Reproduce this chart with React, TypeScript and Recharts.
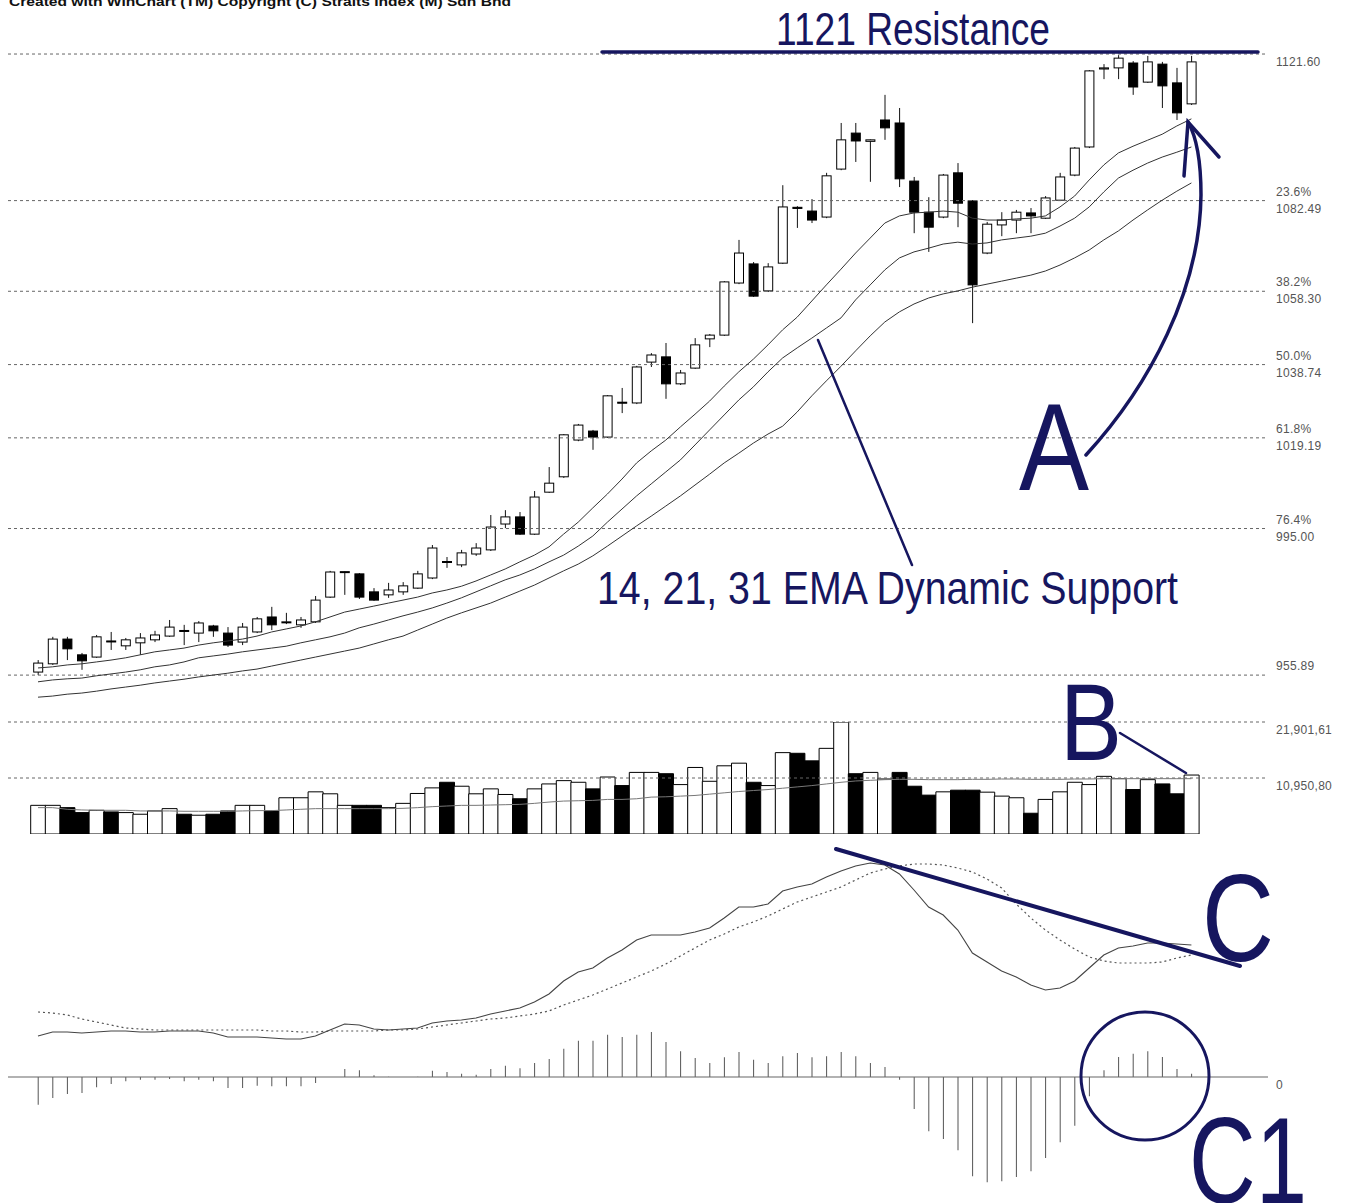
import React from "react";
import { Bar, Cell, ComposedChart, Line, ReferenceLine, XAxis, YAxis } from "recharts";

// daily OHLC
const opens = [
  956.7, 958.9, 965.5, 961.3, 960.7, 965.0, 963.7, 964.5, 965.3, 966.3,
  967.8, 967.1, 969.0, 967.1, 964.7, 967.4, 971.4, 970.0, 969.3, 970.1,
  976.7, 983.3, 982.9, 978.1, 977.3, 978.1, 979.1, 981.8, 986.2, 985.3,
  988.2, 989.3, 996.2, 998.1, 993.5, 1004.7, 1008.8, 1018.6, 1021.0, 1019.4,
  1028.7, 1028.5, 1039.4, 1040.8, 1033.6, 1037.8, 1045.6, 1046.6, 1060.5, 1065.6,
  1058.4, 1065.8, 1080.7, 1079.7, 1078.1, 1090.9, 1100.5, 1098.3, 1104.0, 1103.2,
  1087.7, 1079.4, 1078.1, 1089.9, 1082.4, 1068.5, 1076.0, 1077.3, 1079.2, 1077.8,
  1082.6, 1089.3, 1096.8, 1117.6, 1117.9, 1119.2, 1114.1, 1118.9, 1113.9, 1108.3,
];
const highs = [
  959.9, 966.1, 966.1, 961.8, 966.6, 967.4, 965.8, 967.1, 967.7, 970.6,
  969.3, 970.3, 969.3, 968.7, 969.8, 971.4, 974.1, 972.5, 971.4, 977.0,
  983.7, 983.6, 983.1, 979.1, 980.5, 980.7, 983.7, 990.6, 987.4, 989.3,
  991.1, 998.6, 999.9, 999.4, 1005.0, 1011.4, 1020.2, 1022.9, 1021.3, 1030.6,
  1032.5, 1038.4, 1041.8, 1044.5, 1037.3, 1045.8, 1046.9, 1061.0, 1072.0, 1066.1,
  1065.8, 1086.6, 1081.0, 1082.9, 1089.9, 1103.2, 1103.2, 1098.8, 1110.7, 1107.2,
  1088.8, 1083.4, 1089.6, 1092.5, 1082.6, 1076.8, 1079.4, 1080.0, 1080.5, 1083.7,
  1089.9, 1096.8, 1117.3, 1118.9, 1121.3, 1119.7, 1121.1, 1119.5, 1117.9, 1121.1,
];
const lows = [
  955.9, 958.6, 959.9, 957.3, 960.5, 962.6, 962.6, 961.3, 964.7, 966.1,
  963.9, 964.7, 966.1, 963.4, 963.9, 967.1, 967.9, 969.5, 968.5, 969.8,
  976.5, 977.3, 976.2, 975.7, 976.5, 977.3, 978.9, 981.5, 984.5, 984.7,
  987.7, 989.0, 995.1, 993.3, 993.3, 1004.5, 1008.5, 1018.3, 1016.0, 1019.2,
  1025.8, 1028.2, 1038.1, 1029.6, 1033.3, 1037.6, 1043.4, 1046.4, 1060.2, 1056.8,
  1058.1, 1065.6, 1075.2, 1076.5, 1077.8, 1090.6, 1092.8, 1087.5, 1098.7, 1086.1,
  1073.8, 1068.8, 1077.8, 1075.4, 1049.8, 1068.2, 1073.0, 1073.8, 1073.8, 1077.6,
  1082.4, 1089.0, 1096.5, 1114.9, 1114.9, 1110.7, 1113.9, 1107.2, 1104.0, 1108.0,
];
const closes = [
  959.1, 965.5, 962.9, 959.7, 966.1, 964.8, 965.3, 965.8, 966.6, 968.7,
  967.7, 969.8, 967.7, 963.9, 968.7, 970.9, 969.3, 970.1, 970.6, 975.9,
  983.4, 983.5, 976.7, 975.9, 978.6, 979.7, 982.9, 989.8, 986.1, 988.5,
  989.8, 995.4, 998.1, 993.5, 1003.4, 1007.1, 1020.0, 1022.6, 1019.4, 1030.4,
  1028.5, 1038.1, 1041.3, 1033.6, 1036.5, 1044.0, 1046.6, 1060.8, 1068.5, 1057.0,
  1064.8, 1080.8, 1080.4, 1077.3, 1089.1, 1098.7, 1098.4, 1098.7, 1101.9, 1088.3,
  1079.4, 1075.4, 1089.3, 1081.8, 1060.0, 1076.2, 1077.3, 1079.4, 1078.4, 1083.2,
  1088.8, 1096.5, 1117.1, 1117.9, 1120.5, 1112.8, 1119.5, 1113.1, 1105.9, 1119.5,
];

// 14 / 21 / 31 EMA lines as drawn
const ema14 = [
  957.8, 958.1, 958.6, 958.9, 959.4, 959.9, 960.5, 961.3, 962.1, 962.6,
  963.1, 963.9, 964.5, 965.0, 965.5, 966.3, 967.4, 968.2, 969.0, 970.1,
  971.4, 972.7, 973.5, 974.3, 975.1, 975.9, 976.7, 977.8, 978.6, 979.6,
  981.0, 982.6, 984.2, 986.1, 987.9, 990.1, 993.5, 996.7, 1000.5, 1004.2,
  1008.2, 1012.5, 1015.7, 1018.6, 1022.1, 1025.5, 1029.0, 1033.0, 1036.8, 1040.2,
  1044.0, 1048.0, 1051.4, 1055.7, 1060.0, 1064.2, 1068.5, 1072.5, 1076.5, 1078.4,
  1079.2, 1079.4, 1079.7, 1079.4, 1077.8, 1077.3, 1077.3, 1077.6, 1077.8, 1078.4,
  1080.8, 1083.7, 1088.0, 1092.0, 1095.2, 1097.0, 1098.6, 1100.2, 1102.4, 1104.3,
];
const ema21 = [
  954.1, 954.6, 954.9, 955.1, 955.7, 956.2, 956.7, 957.3, 958.1, 958.6,
  959.4, 960.5, 961.0, 961.5, 962.1, 962.6, 963.1, 963.6, 964.5, 965.3,
  966.1, 967.1, 968.5, 969.5, 970.6, 971.7, 972.7, 973.8, 975.1, 976.5,
  978.1, 979.7, 981.3, 982.6, 984.2, 986.1, 987.9, 990.3, 993.0, 996.7,
  1000.2, 1003.7, 1006.9, 1010.1, 1013.3, 1017.3, 1021.3, 1025.3, 1029.3, 1032.8,
  1036.8, 1040.5, 1043.2, 1045.8, 1048.5, 1051.2, 1056.0, 1060.0, 1064.0, 1067.2,
  1068.8, 1069.8, 1070.9, 1071.4, 1070.9, 1071.2, 1072.0, 1072.5, 1073.0, 1073.8,
  1075.7, 1077.8, 1080.8, 1084.8, 1088.5, 1090.6, 1092.5, 1094.1, 1095.4, 1096.8,
];
const ema31 = [
  950.0, 950.3, 950.8, 951.1, 951.6, 952.2, 952.7, 953.2, 953.8, 954.3,
  954.8, 955.4, 955.9, 956.4, 957.0, 957.5, 958.3, 959.1, 959.9, 960.7,
  961.5, 962.3, 963.1, 964.2, 965.3, 966.3, 967.9, 969.5, 971.1, 972.5,
  973.8, 975.1, 976.7, 978.3, 979.9, 981.8, 983.7, 985.5, 987.7, 990.3,
  993.0, 995.7, 998.3, 1001.0, 1003.7, 1006.6, 1009.5, 1012.5, 1015.1, 1017.8,
  1020.2, 1022.3, 1026.1, 1030.4, 1034.4, 1038.3, 1042.4, 1046.4, 1050.1, 1052.8,
  1054.9, 1056.5, 1057.6, 1058.4, 1059.4, 1060.2, 1061.0, 1061.8, 1062.6, 1063.7,
  1065.3, 1067.2, 1069.3, 1072.0, 1074.4, 1077.3, 1080.0, 1082.6, 1085.0, 1087.2,
];

const volumes = [
  5604, 5604, 5154, 4187, 4638, 4316, 4187, 3865, 4509, 4960,
  3865, 3672, 3865, 4509, 5604, 5604, 4509, 7086, 7086, 8246,
  7859, 5604, 5604, 5604, 5154, 5991, 7924, 9019, 10114, 9341,
  7859, 8826, 7730, 6893, 8826, 9792, 10436, 10114, 8826, 11145,
  9470, 12047, 12047, 11789, 9663, 13013, 10307, 13335, 13850, 10114,
  9470, 15912, 15783, 14301, 16749, 21901.6, 11789, 12047, 10758, 12047,
  9341, 7602, 8246, 8568, 8568, 8181, 7408, 7086, 4058, 6764,
  8246, 10114, 9663, 11273, 10822, 8697, 10629, 9792, 7859, 11531,
];
const volumeAvg = [
  5152, 5152, 4830, 4701, 4637, 4637, 4637, 4508, 4508, 4508,
  4444, 4444, 4444, 4444, 4508, 4572, 4572, 4701, 4830, 4959,
  4959, 4959, 4959, 4959, 4959, 5023, 5152, 5345, 5474, 5603,
  5603, 5667, 5732, 5796, 5989, 6247, 6440, 6504, 6569, 6762,
  6762, 6891, 7213, 7277, 7406, 7535, 7792, 8050, 8308, 8501,
  8694, 8952, 9209, 9467, 9789, 10111, 10368, 10497, 10626, 10690,
  10690, 10626, 10626, 10626, 10690, 10690, 10755, 10755, 10690, 10690,
  10690, 10755, 10755, 10819, 10819, 10819, 10819, 10819, 10819, 10819,
];

const macdLine = [
  4.1, 4.5, 4.5, 4.4, 4.5, 4.6, 4.6, 4.5, 4.5, 4.6,
  4.6, 4.6, 4.4, 4.0, 4.0, 4.0, 3.9, 3.8, 3.8, 4.1,
  4.7, 5.3, 5.2, 4.8, 4.7, 4.8, 4.9, 5.4, 5.6, 5.7,
  5.9, 6.3, 6.6, 6.9, 7.5, 8.3, 9.6, 10.5, 10.9, 11.9,
  12.7, 13.7, 14.2, 14.2, 14.2, 14.5, 14.9, 15.9, 17.0, 17.0,
  17.3, 18.6, 19.0, 19.3, 20.0, 20.6, 21.1, 21.4, 21.2, 20.3,
  18.7, 17.0, 16.2, 14.7, 12.4, 11.5, 10.6, 10.0, 9.2, 8.7,
  8.9, 9.6, 10.9, 12.2, 12.9, 13.1, 13.4, 13.4, 13.3, 13.2,
];
const signalLine = [
  6.5, 6.4, 6.2, 5.8, 5.5, 5.2, 4.9, 4.8, 4.7, 4.7,
  4.7, 4.7, 4.7, 4.7, 4.7, 4.7, 4.6, 4.6, 4.5, 4.5,
  4.6, 4.6, 4.6, 4.6, 4.7, 4.7, 4.8, 5.0, 5.2, 5.4,
  5.6, 5.8, 5.9, 6.1, 6.3, 6.6, 7.2, 7.7, 8.2, 8.8,
  9.4, 10.0, 10.6, 11.3, 12.1, 12.9, 13.7, 14.3, 15.0, 15.5,
  16.1, 16.8, 17.5, 18.0, 18.5, 19.0, 19.7, 20.4, 20.8, 21.1,
  21.3, 21.3, 21.2, 20.9, 20.5, 19.8, 18.9, 17.3, 15.9, 14.7,
  13.7, 12.8, 12.0, 11.6, 11.4, 11.4, 11.4, 11.5, 11.9, 12.2,
];
const macdHist = [
  -2.22, -1.68, -1.36, -1.28, -0.82, -0.56, -0.34, -0.22, -0.22, -0.16,
  -0.34, -0.22, -0.34, -0.88, -0.88, -0.7, -0.74, -0.74, -0.74, -0.48,
  0, 0.64, 0.54, 0.14, 0.02, 0, 0.02, 0.5, 0.4, 0.26,
  0.18, 0.64, 0.9, 0.7, 1.12, 1.44, 2.26, 2.9, 2.9, 3.38,
  3.2, 3.38, 3.6, 2.8, 2.06, 1.52, 1.12, 1.58, 2.0, 1.38,
  1.12, 1.66, 1.92, 1.58, 1.66, 2.0, 1.66, 1.12, 0.8, -0.22,
  -2.56, -4.34, -4.96, -5.86, -7.94, -8.42, -8.34, -8.0, -7.54, -6.48,
  -5.22, -3.9, -1.54, 0.54, 1.6, 1.86, 2.06, 1.6, 0.64, 0.26,
];

const fibLevels = [
  { value: 1121.6, pct: "", text: "1121.60" },
  { value: 1082.49, pct: "23.6%", text: "1082.49" },
  { value: 1058.3, pct: "38.2%", text: "1058.30" },
  { value: 1038.74, pct: "50.0%", text: "1038.74" },
  { value: 1019.19, pct: "61.8%", text: "1019.19" },
  { value: 995.0, pct: "76.4%", text: "995.00" },
  { value: 955.89, pct: "", text: "955.89", above: true },
];
const volumeLevels = [
  { value: 21901.61, text: "21,901,61" },
  { value: 10950.8, text: "10,950,80" },
];

const days = opens.map((_, i) => `D${i + 1}`);

const rows = days.map((day, i) => ({
  day,
  open: opens[i],
  high: highs[i],
  low: lows[i],
  close: closes[i],
  ema14: ema14[i],
  ema21: ema21[i],
  ema31: ema31[i],
  volume: volumes[i],
  volAvg: volumeAvg[i],
  up: i === 0 || closes[i] >= closes[i - 1],
  macd: macdLine[i],
  signal: signalLine[i],
  hist: macdHist[i],
}));

const W = 1348;
const MARGIN = { top: 0, right: 80, bottom: 0, left: 8 };
const PAD = { left: 22.7, right: 69.3 };
const NAVY = "#16165f";
const LABEL_FONT = "'Liberation Sans', Arial, sans-serif";
const BIG_FONT = "'Liberation Sans Narrow', 'Liberation Sans', Arial, sans-serif";
const DOTS = "3 3";

function Candle(props: any) {
  const { x, y, width, height, payload } = props;
  if (!payload || height == null) return null;
  const { open, close, high, low } = payload;
  const cx = x + width / 2;
  const ppu = height / (high - low);
  const yOf = (v: number) => y + (high - v) * ppu;
  const top = yOf(Math.max(open, close));
  const bot = yOf(Math.min(open, close));
  const bw = 9;
  return (
    <g>
      <line x1={cx} x2={cx} y1={y} y2={y + height} stroke="#111" strokeWidth={1} />
      <rect
        x={cx - bw / 2}
        y={top}
        width={bw}
        height={Math.max(1, bot - top)}
        fill={close >= open ? "#fff" : "#000"}
        stroke="#000"
        strokeWidth={1}
      />
    </g>
  );
}

function LevelLabel({ viewBox, top, bottom, above }: any) {
  if (!viewBox) return null;
  const x = viewBox.x + viewBox.width + 8;
  const y = viewBox.y;
  return (
    <g fontFamily={LABEL_FONT} fontSize={12} fill="#555" letterSpacing={0.3}>
      {top ? <text x={x} y={y - 5}>{top}</text> : null}
      {bottom ? <text x={x} y={above ? y - 5 : y + 12}>{bottom}</text> : null}
    </g>
  );
}

function PriceChart() {
  return (
    <ComposedChart width={W} height={670} data={rows} margin={MARGIN} barCategoryGap={0}>
      <XAxis dataKey="day" hide padding={PAD} />
      <YAxis hide domain={[946.58, 1125.34]} allowDataOverflow />
      {fibLevels.map((f) => (
        <ReferenceLine
          key={f.text}
          y={f.value}
          stroke="#666"
          strokeDasharray={DOTS}
          label={{
            content: (p: any) => (
              <LevelLabel viewBox={p.viewBox} top={f.pct} bottom={f.text} above={f.above} />
            ),
          }}
        />
      ))}
      <Line dataKey="ema31" stroke="#333" strokeWidth={1} dot={false} isAnimationActive={false} />
      <Line dataKey="ema21" stroke="#333" strokeWidth={1} dot={false} isAnimationActive={false} />
      <Line dataKey="ema14" stroke="#333" strokeWidth={1} dot={false} isAnimationActive={false} />
      <Bar dataKey={(d: any) => [d.low, d.high]} shape={<Candle />} isAnimationActive={false} />
    </ComposedChart>
  );
}

function VolumeChart() {
  return (
    <ComposedChart
      width={W}
      height={140}
      data={rows}
      margin={{ ...MARGIN, top: 22, bottom: 6 }}
      barCategoryGap={0}
    >
      <XAxis dataKey="day" hide padding={PAD} />
      <YAxis hide domain={[0, 21901.61]} allowDataOverflow />
      {volumeLevels.map((v) => (
        <ReferenceLine
          key={v.text}
          y={v.value}
          stroke="#666"
          strokeDasharray={DOTS}
          label={{ content: (p: any) => <LevelLabel viewBox={p.viewBox} bottom={v.text} /> }}
        />
      ))}
      <Bar dataKey="volume" stroke="#000" strokeWidth={1} isAnimationActive={false}>
        {rows.map((r) => (
          <Cell key={r.day} fill={r.up ? "#fff" : "#000"} />
        ))}
      </Bar>
      <Line dataKey="volAvg" stroke="#777" strokeWidth={1} dot={false} isAnimationActive={false} />
    </ComposedChart>
  );
}

function MacdChart() {
  return (
    <ComposedChart width={W} height={363} data={rows} margin={{ ...MARGIN, bottom: 3 }}>
      <XAxis dataKey="day" hide padding={PAD} />
      <YAxis yAxisId="macd" hide domain={[-12.3, 23.7]} allowDataOverflow />
      <YAxis yAxisId="hist" hide domain={[-9.84, 18.96]} allowDataOverflow />
      <ReferenceLine
        yAxisId="hist"
        y={0}
        stroke="#666"
        strokeWidth={1.2}
        label={{ content: (p: any) => <LevelLabel viewBox={p.viewBox} bottom="0" /> }}
      />
      <Bar yAxisId="hist" dataKey="hist" barSize={1} fill="#555" isAnimationActive={false} />
      <Line
        yAxisId="macd"
        dataKey="signal"
        stroke="#555"
        strokeWidth={1.2}
        strokeDasharray="2 3"
        dot={false}
        isAnimationActive={false}
      />
      <Line yAxisId="macd" dataKey="macd" stroke="#444" strokeWidth={1.1} dot={false} isAnimationActive={false} />
    </ComposedChart>
  );
}

function Annotations() {
  return (
    <svg
      width={W}
      height={1203}
      style={{ position: "absolute", left: 0, top: 0, pointerEvents: "none" }}
    >
      <text
        x={9}
        y={6}
        fontFamily={LABEL_FONT}
        fontWeight="bold"
        fontSize={13}
        textLength={502}
        lengthAdjust="spacingAndGlyphs"
        fill="#111"
      >
        Created with WinChart (TM)  Copyright (C) Straits Index (M) Sdn Bhd
      </text>
      <g fill={NAVY} fontFamily={BIG_FONT}>
        <text x={776} y={45} fontSize={46} textLength={274} lengthAdjust="spacingAndGlyphs">
          1121 Resistance
        </text>
        <text x={597} y={604} fontSize={46} textLength={581} lengthAdjust="spacingAndGlyphs">
          14, 21, 31 EMA Dynamic Support
        </text>
        <text x={1019} y={490} fontSize={124} textLength={70} lengthAdjust="spacingAndGlyphs">
          A
        </text>
        <text x={1060} y={760} fontSize={110} textLength={62} lengthAdjust="spacingAndGlyphs">
          B
        </text>
        <text x={1202} y={961} fontSize={124} textLength={72} lengthAdjust="spacingAndGlyphs">
          C
        </text>
        <text x={1189} y={1203} fontSize={122} textLength={118} lengthAdjust="spacingAndGlyphs">
          C1
        </text>
      </g>
      <g stroke={NAVY} fill="none" strokeLinecap="round">
        <line x1={602} y1={52} x2={1258} y2={52} strokeWidth={3.5} />
        <line x1={818} y1={340} x2={912} y2={565} strokeWidth={2.5} />
        <path d="M1086,455 C1150,385 1200,290 1201,195 C1201,160 1196,136 1188,122" strokeWidth={3.5} />
        <path d="M1219,157 L1188,122 L1184,176" strokeWidth={3.5} />
        <line x1={1120} y1={733} x2={1186} y2={773} strokeWidth={2.5} />
        <line x1={836} y1={849} x2={1240} y2={966} strokeWidth={4} />
        <ellipse cx={1145} cy={1076} rx={64} ry={64} strokeWidth={3} />
      </g>
    </svg>
  );
}

export default function App() {
  return (
    <div
      style={{
        position: "absolute",
        left: 0,
        top: 0,
        width: W,
        height: 1203,
        background: "#fff",
        overflow: "hidden",
      }}
    >
      <div style={{ position: "absolute", left: 0, top: 40 }}>
        <PriceChart />
      </div>
      <div style={{ position: "absolute", left: 0, top: 700 }}>
        <VolumeChart />
      </div>
      <div style={{ position: "absolute", left: 0, top: 840 }}>
        <MacdChart />
      </div>
      <Annotations />
    </div>
  );
}
